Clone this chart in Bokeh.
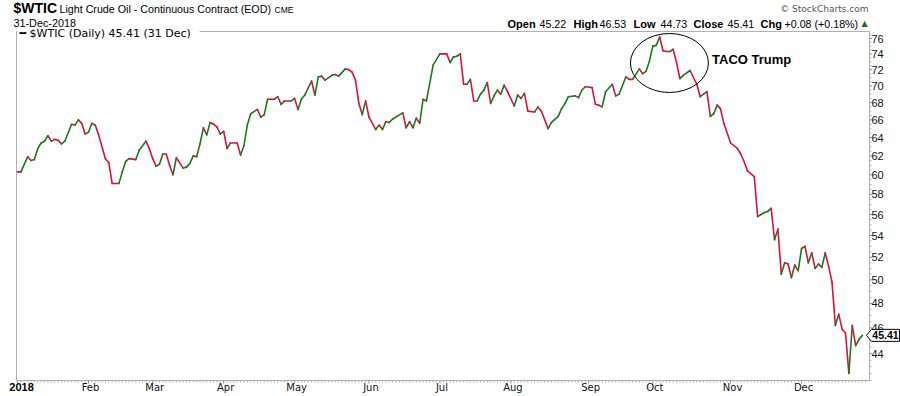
import math
from bokeh.plotting import figure
from bokeh.models import Range1d
from bokeh.core.properties import value
from bokeh.embed import file_html
from bokeh.resources import INLINE

# ---------------- data ----------------
day_idx = [0, 1, 3, 4, 5, 6, 7, 8, 9, 10, 11, 12, 13, 14, 16, 17, 18, 19, 20, 21,
           22, 23, 24, 26, 27, 28, 30, 31, 32, 33, 35, 36, 38, 39, 40, 41, 42, 43, 44, 45,
           46, 47, 49, 50, 51, 52, 53, 54, 55, 56, 57, 58, 59, 60, 61, 62, 63, 65, 66, 67,
           68, 69, 71, 72, 73, 74, 75, 76, 77, 78, 79, 81, 82, 83, 84, 85, 87, 88, 89, 90,
           91, 93, 94, 95, 97, 98, 99, 100, 101, 102, 103, 104, 106, 107, 108, 109, 110, 111, 114, 115,
           116, 117, 118, 119, 120, 121, 123, 125, 126, 127, 128, 129, 130, 131, 132, 133, 134, 135, 136, 137,
           138, 139, 140, 141, 142, 143, 144, 145, 147, 148, 149, 150, 151, 153, 154, 155, 157, 158, 160, 161,
           162, 163, 165, 166, 167, 168, 170, 171, 172, 173, 174, 176, 177, 178, 180, 181, 182, 184, 185, 186,
           187, 188, 189, 190, 191, 192, 193, 194, 195, 196, 197, 199, 201, 202, 203, 204, 205, 206, 207, 208,
           209, 211, 213, 214, 215, 216, 218, 219, 220, 221, 222, 223, 224, 225, 226, 227, 228, 229, 230, 231,
           232, 233, 234, 235, 236, 237, 238, 239, 240, 241, 242, 243, 244, 245, 246, 247, 248, 249, 250]
close = [60.3, 60.3, 61.9, 61.5, 61.6, 62.8, 63.4, 63.6, 64.2, 63.6, 63.8, 63.7, 63.3, 63.6, 65.5, 65.4, 66.0, 65.6, 64.4, 64.6,
         65.6, 65.4, 64.3, 61.7, 61.3, 59.1, 59.1, 60.3, 61.4, 61.7, 61.6, 62.6, 63.6, 62.8, 61.7, 60.9, 61.1, 62.2, 62.2, 61.0,
         60.0, 61.8, 60.7, 60.8, 61.2, 62.0, 61.9, 63.3, 65.1, 64.3, 65.7, 65.5, 65.2, 64.4, 64.7, 62.8, 63.4, 63.4, 62.1, 63.1,
         65.4, 66.7, 67.2, 66.3, 66.6, 68.4, 68.4, 68.4, 68.7, 67.8, 68.2, 68.2, 68.5, 67.2, 68.4, 68.9, 70.6, 68.9, 71.1, 71.2,
         70.7, 71.3, 71.4, 71.2, 72.1, 72.0, 71.7, 70.7, 67.9, 66.6, 68.2, 66.3, 64.9, 65.4, 64.9, 65.8, 65.7, 66.1, 66.8, 65.1,
         65.8, 65.1, 66.2, 65.6, 68.4, 68.2, 72.6, 74.0, 74.0, 74.0, 72.9, 73.6, 73.7, 74.0, 70.2, 70.2, 70.8, 68.2, 68.2, 69.0,
         69.5, 70.4, 67.9, 68.8, 69.5, 69.0, 70.1, 69.3, 67.6, 68.9, 68.5, 69.1, 67.0, 66.9, 67.5, 67.0, 65.0, 65.7, 66.4, 67.3,
         67.9, 68.7, 68.8, 68.6, 69.5, 69.9, 69.8, 67.8, 67.7, 67.5, 69.3, 70.2, 68.8, 69.0, 71.1, 70.8, 70.8, 72.1, 71.5, 71.8,
         73.1, 75.0, 75.1, 76.2, 74.4, 74.3, 74.3, 74.6, 72.9, 70.9, 71.3, 71.9, 70.2, 68.7, 69.0, 69.3, 66.4, 66.7, 67.7, 67.3,
         65.6, 63.4, 62.8, 62.2, 61.4, 60.4, 59.8, 55.8, 56.0, 56.2, 56.3, 56.6, 53.6, 54.6, 50.5, 51.5, 51.4, 50.2, 51.3, 50.8,
         52.8, 53.0, 51.5, 52.4, 51.0, 51.4, 51.1, 52.4, 51.2, 49.8, 46.2, 47.1, 45.9, 45.6, 42.5, 46.2, 44.6, 45.1, 45.41]

month_ticks = [0, 21, 40, 61, 82, 104, 125, 146, 169, 188, 211, 232]
month_labels = ["2018", "Feb", "Mar", "Apr", "May", "Jun", "Jul", "Aug", "Sep", "Oct", "Nov", "Dec"]
price_ticks = [44, 46, 48, 50, 52, 54, 56, 58, 60, 62, 64, 66, 68, 70, 72, 74, 76]
price_minor = [v / 2 for v in range(84, 154)]

symbol = "$WTIC"
title_text = "Light Crude Oil - Continuous Contract (EOD)"
exchange = "CME"
date_text = "31-Dec-2018"
legend_text = "\u2501 $WTIC (Daily) 45.41 (31 Dec)"
ohlc_labels = ["Open", "High", "Low", "Close", "Chg"]
ohlc_values = ["45.22", "46.53", "44.73", "45.41", "+0.08 (+0.18%)"]
last_close = 45.41
annotation_text = "TACO Trump"
annot_day, annot_price = 192.9, 72.84        # centre of the circled area
annot_text_day, annot_text_price = 205.5, 73.24

UP, DOWN = "#187a18", "#d8123c"
BORDER = "#b0b0b0"
TICK = "#8a8a8a"

# ---------------- layout (page pixels) ----------------
W, H = 900, 396
CH_L, CH_R, CH_T, CH_B = 16, 869, 31, 380     # chart frame edges
idx_lo, idx_hi = -0.3, 252.1                  # visible trading-day span
price_lo, price_hi = 41.99, 76.93             # visible price span (log scale)

ppi = (CH_R - CH_L) / (idx_hi - idx_lo)                 # px per trading day
ppl = (CH_B - CH_T) / math.log(price_hi / price_lo)     # px per ln(price)


def X(px):
    return idx_lo + (px - CH_L) / ppi


def Y(py):
    return price_lo * math.exp((CH_B - py) / ppl)


p = figure(width=W, height=H, output_backend="svg", toolbar_location=None, title=None,
           y_axis_type="log", x_axis_location=None, y_axis_location=None,
           x_range=Range1d(X(0), X(W)), y_range=Range1d(Y(H), Y(0)),
           min_border=0, min_border_left=0, min_border_right=0,
           min_border_top=0, min_border_bottom=0)
p.outline_line_color = None
p.xgrid.visible = False
p.ygrid.visible = False
p.background_fill_color = "white"


def txt(s, px, py, size, bold=False, font="Liberation Sans", color="#000",
        align="left", baseline="middle"):
    p.text(x=[X(px)], y=[Y(py)], text=[s], text_font=value(font), text_font_size=f"{size}px",
           text_font_style="bold" if bold else "normal", text_color=color,
           text_align=align, text_baseline=baseline)


# ---- chart frame ----
p.quad(left=[idx_lo], right=[idx_hi], bottom=[price_lo], top=[price_hi],
       fill_color=None, line_color=BORDER, line_width=1)

# ---- right price axis ----
minor_y = [v for v in price_minor if v not in price_ticks and price_lo < v < price_hi]
p.segment(x0=[idx_hi] * len(minor_y), y0=minor_y, x1=[X(CH_R + 2)] * len(minor_y), y1=minor_y,
          line_color=BORDER, line_width=1)
p.segment(x0=[idx_hi] * len(price_ticks), y0=price_ticks, x1=[X(CH_R + 2.5)] * len(price_ticks),
          y1=price_ticks, line_color=TICK, line_width=1)
p.text(x=[X(CH_R + 2)] * len(price_ticks), y=price_ticks, text=[str(t) for t in price_ticks],
       text_font=value("Liberation Sans"), text_font_size="11px", text_color="#111",
       text_align="left", text_baseline="middle")

# ---- bottom time axis ----
minor_x = [d for d in range(0, 252) if d not in month_ticks]
p.segment(x0=minor_x, y0=[price_lo] * len(minor_x), x1=minor_x, y1=[Y(CH_B + 2)] * len(minor_x),
          line_color=BORDER, line_width=1)
p.segment(x0=month_ticks, y0=[price_lo] * len(month_ticks), x1=month_ticks,
          y1=[Y(CH_B + 3)] * len(month_ticks), line_color=TICK, line_width=1)
p.text(x=month_ticks[1:], y=[Y(CH_B + 7)] * (len(month_ticks) - 1), text=month_labels[1:],
       text_font=value("DejaVu Sans"), text_font_size="10px", text_color="#111",
       text_align="center", text_baseline="middle", x_offset=2)
p.text(x=month_ticks[:1], y=[Y(CH_B + 6.5)], text=month_labels[:1],
       text_font=value("Liberation Sans"), text_font_size="11px", text_font_style="bold",
       text_color="#000", text_align="center", text_baseline="middle", x_offset=4)

# ---- price line: green when up, red when down ----
x0, x1 = day_idx[:-1], day_idx[1:]
y0, y1 = close[:-1], close[1:]
colors = [UP if b > a else DOWN for a, b in zip(y0, y1)]
p.segment(x0=x0, y0=y0, x1=x1, y1=y1, line_color=colors, line_width=1.6, line_cap="round")

# ---- annotation ----
p.ellipse(x=[annot_day], y=[annot_price], width=78, height=59,
          width_units="screen", height_units="screen",
          fill_color=None, line_color="black", line_width=1)
p.text(x=[annot_text_day], y=[annot_text_price], text=[annotation_text],
       text_font=value("Liberation Sans"), text_font_size="13px", text_font_style="bold",
       text_color="#000", text_align="left", text_baseline="middle")

# ---- last value tag ----
tag_dy = 6 / ppl
p.patch(x=[X(866), X(871), X(899), X(899), X(871)],
        y=[last_close, last_close * math.exp(tag_dy), last_close * math.exp(tag_dy),
           last_close * math.exp(-tag_dy), last_close * math.exp(-tag_dy)],
        fill_color="white", line_color="black", line_width=1)
p.text(x=[X(885)], y=[last_close], text=[f"{last_close:.2f}"],
       text_font=value("Liberation Sans"), text_font_size="10.5px", text_font_style="bold",
       text_color="#000", text_align="center", text_baseline="middle")

# ---- legend line (white box hides the frame edge behind it) ----
p.quad(left=[X(17)], right=[X(199)], bottom=[Y(38)], top=[Y(28)],
       fill_color="white", line_color=None)
txt(legend_text, 19, 33, 11, font="DejaVu Sans")

# ---- header ----
txt(symbol, 13, 7.5, 14, bold=True)
txt(title_text, 59, 8.5, 10.7)
txt(exchange, 274, 9, 8.5)
txt(date_text, 13, 22.5, 10.8)
txt("\u00a9 StockCharts.com", 868, 8.5, 9, font="DejaVu Sans", color="#555", align="right")
lab_x = [507, 573, 633, 693, 760]
val_x = [539, 599, 660, 727, 784]
for lab, lx, val, vx in zip(ohlc_labels, lab_x, ohlc_values, val_x):
    txt(lab, lx, 23, 11, bold=True)
    txt(val, vx, 23, 10.7)
txt("\u25b2", 861, 22.5, 8, font="DejaVu Sans", color="#1f6b1f")

open("out.html", "w").write(file_html(p, INLINE))
